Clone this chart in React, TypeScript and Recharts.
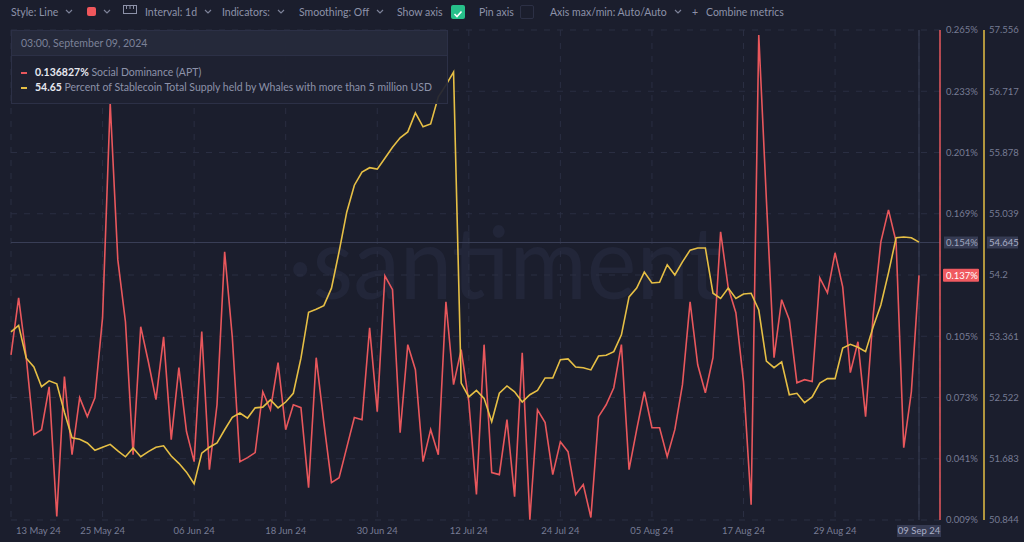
import React from 'react';
import { LineChart, Line, XAxis, YAxis, CartesianGrid, ReferenceLine } from 'recharts';

// daily points, 13 May 2024 -> 09 Sep 2024
const START_DATE = Date.UTC(2024, 4, 13);
const MONTHS = ['Jan', 'Feb', 'Mar', 'Apr', 'May', 'Jun', 'Jul', 'Aug', 'Sep', 'Oct', 'Nov', 'Dec'];

// Social Dominance (APT), %
const socialDominance = [
  0.0953, 0.1251, 0.0938, 0.0536, 0.0562, 0.0786, 0.0108, 0.0839, 0.0431, 0.0729,
  0.063, 0.0729, 0.1147, 0.2269, 0.1449, 0.1126, 0.0431, 0.11, 0.0917, 0.0719,
  0.1047, 0.051, 0.0886, 0.0552, 0.0395, 0.1074, 0.0353, 0.0692, 0.1491, 0.1047,
  0.0395, 0.0416, 0.0442, 0.076, 0.0666, 0.0912, 0.0562, 0.0692, 0.0677, 0.0259,
  0.0938, 0.0599, 0.0285, 0.0311, 0.0468, 0.0625, 0.0614, 0.1094, 0.0656, 0.1366,
  0.1293, 0.0546, 0.1006, 0.0875, 0.0395, 0.0562, 0.0431, 0.123, 0.0797, 0.098,
  0.0708, 0.0223, 0.1006, 0.0338, 0.0327, 0.0614, 0.0212, 0.0964, 0.0092, 0.0666,
  0.0599, 0.0327, 0.0499, 0.0447, 0.0223, 0.0275, 0.0103, 0.063, 0.0692, 0.0781,
  0.1006, 0.0353, 0.0562, 0.076, 0.0572, 0.0572, 0.0421, 0.0562, 0.0797, 0.123,
  0.0901, 0.0755, 0.0938, 0.1596, 0.1303, 0.1173, 0.0813, 0.017, 0.2624, 0.1763,
  0.0938, 0.1241, 0.1136, 0.0807, 0.0823, 0.0813, 0.1355, 0.1277, 0.1486, 0.1308,
  0.086, 0.1021, 0.063, 0.1162, 0.1543, 0.171, 0.1543, 0.0468, 0.076, 0.136827,
];

// Percent of Stablecoin Total Supply held by Whales with more than 5 million USD
const whaleShare = [
  53.42, 53.51, 53.06, 52.94, 52.67, 52.75, 52.71, 52.32, 51.97, 51.95,
  51.9, 51.8, 51.84, 51.88, 51.79, 51.71, 51.83, 51.71, 51.78, 51.84,
  51.86, 51.72, 51.62, 51.5, 51.34, 51.76, 51.84, 51.9, 52.08, 52.25,
  52.31, 52.24, 52.38, 52.39, 52.49, 52.38, 52.46, 52.58, 53.06, 53.69,
  53.73, 53.78, 54.02, 54.52, 55.06, 55.43, 55.61, 55.67, 55.65, 55.8,
  55.95, 56.08, 56.16, 56.42, 56.23, 56.27, 56.64, 56.8, 56.98, 52.72,
  52.53, 52.62, 52.51, 52.19, 52.58, 52.68, 52.6, 52.46, 52.56, 52.62,
  52.79, 52.79, 53.04, 53.05, 52.94, 52.93, 52.9, 53.09, 53.1, 53.15,
  53.38, 53.9, 54.02, 54.24, 54.09, 54.1, 54.34, 54.2, 54.38, 54.54,
  54.57, 54.57, 53.95, 53.88, 54.02, 53.88, 53.94, 53.95, 53.72, 53.02,
  52.93, 53.01, 52.56, 52.58, 52.45, 52.53, 52.72, 52.78, 52.78, 53.2,
  53.25, 53.21, 53.15, 53.49, 53.79, 54.23, 54.71, 54.72, 54.71, 54.65,
];

const sdTicks = [0.265, 0.233, 0.201, 0.169, 0.137, 0.105, 0.073, 0.041, 0.009];
const whaleTicks = [57.556, 56.717, 55.878, 55.039, 54.2, 53.361, 52.522, 51.683, 50.844];
const dateTicks = [
  '13 May 24', '25 May 24', '06 Jun 24', '18 Jun 24', '30 Jun 24', '12 Jul 24',
  '24 Jul 24', '05 Aug 24', '17 Aug 24', '29 Aug 24', '09 Sep 24',
];

const hoverTitle = '03:00, September 09, 2024';
const hoverSd = 0.154;
const hoverWhale = 54.645;
const lastSd = 0.136827;
const lastWhale = 54.65;

const RED = '#e8575c';
const YELLOW = '#e6bf45';
const BG = '#1b1e2d';
const MUTED = '#777c94';

const dates = socialDominance.map((_, i) => {
  const d = new Date(START_DATE + i * 86400000);
  return `${String(d.getUTCDate()).padStart(2, '0')} ${MONTHS[d.getUTCMonth()]} ${String(d.getUTCFullYear()).slice(2)}`;
});

const data = dates.map((date, i) => ({ date, sd: socialDominance[i], whales: whaleShare[i] }));

const Chevron: React.FC = () => (
  <svg style={{ marginLeft: 7 }} width={8} height={5}>
    <path d="M1 1 L4 4 L7 1" fill="none" stroke="#7d8299" strokeWidth={1.2} />
  </svg>
);

const ToolItem: React.FC<{ x: number; chevron?: boolean; children: React.ReactNode }> = ({ x, chevron, children }) => (
  <div style={{ position: 'absolute', left: x, top: 4, height: 15, display: 'flex', alignItems: 'center', fontSize: 10.5, color: '#8d92a9', whiteSpace: 'nowrap' }}>
    {children}
    {chevron && <Chevron />}
  </div>
);

const XTick = (props: any) => {
  const { x, y, payload } = props;
  const v = payload.value;
  if (v === dates[dates.length - 1]) {
    return (
      <g>
        <rect x={x - 22} y={y + 5} width={44} height={12} fill="#353a52" />
        <text x={x} y={y + 14} textAnchor="middle" fill="#a9aec6" fontSize={9.5}>{v}</text>
      </g>
    );
  }
  const first = v === dates[0];
  return (
    <text x={first ? x + 5 : x} y={y + 13.5} textAnchor={first ? 'start' : 'middle'} fill={MUTED} fontSize={9.5}>
      {v}
    </text>
  );
};

// the tick under the live-value tag is covered by it, so it is not drawn twice
const SdTick = (props: any) => {
  const { x, y, payload } = props;
  if (payload.value.toFixed(3) === lastSd.toFixed(3)) return <g />;
  return (
    <text x={x} y={y + 3.4} fill={MUTED} fontSize={9.5}>{`${payload.value.toFixed(3)}%`}</text>
  );
};

const HoverTags = (props: any) => {
  const { viewBox } = props;
  const right = viewBox.x + viewBox.width;
  const y = viewBox.y;
  return (
    <g>
      <rect x={right + 4} y={y - 6} width={34} height={12} fill="#363b53" />
      <text x={right + 6} y={y + 3.4} fill="#9ea4bd" fontSize={9.5}>{hoverSd.toFixed(3)}%</text>
      <rect x={right + 47} y={y - 6} width={31} height={12} fill="#363b53" />
      <text x={right + 49} y={y + 3.4} fill="#a9aec6" fontSize={9.5}>{hoverWhale}</text>
    </g>
  );
};

const LastTag = (props: any) => {
  const { viewBox } = props;
  const right = viewBox.x + viewBox.width;
  const y = viewBox.y;
  return (
    <g>
      <rect x={right + 3} y={y - 6.5} width={36} height={13} fill="#f05a60" rx={1} />
      <text x={right + 6} y={y + 3.4} fill="#ffffff" fontSize={9.5}>{lastSd.toFixed(3)}%</text>
    </g>
  );
};

const App: React.FC = () => {
  return (
    <div style={{ position: 'absolute', left: 0, top: 0, width: 1024, height: 542, background: BG, overflow: 'hidden', fontFamily: 'Lato, "Open Sans", sans-serif' }}>
      {/* toolbar */}
      <ToolItem x={11} chevron>Style: Line</ToolItem>
      <ToolItem x={87} chevron>
        <div style={{ width: 9, height: 9, background: '#f0575c', borderRadius: 2 }} />
      </ToolItem>
      <svg style={{ position: 'absolute', left: 123, top: 4 }} width={15} height={11}>
        <rect x={0.5} y={1.5} width={13} height={8} fill="none" stroke="#8d92a9" strokeWidth={1} />
        <path d="M3.5 1.5 V5 M7 1.5 V5 M10.5 1.5 V5" stroke="#8d92a9" strokeWidth={1} />
      </svg>
      <ToolItem x={145} chevron>Interval: 1d</ToolItem>
      <ToolItem x={222} chevron>Indicators:</ToolItem>
      <ToolItem x={299} chevron>Smoothing: Off</ToolItem>
      <ToolItem x={397}>Show axis</ToolItem>
      <div style={{ position: 'absolute', left: 451, top: 5, width: 14, height: 14, background: '#27c08a', borderRadius: 2 }}>
        <svg width={14} height={14}>
          <path d="M3.5 7 L6 9.5 L10.5 4.5" fill="none" stroke="#fff" strokeWidth={1.6} />
        </svg>
      </div>
      <ToolItem x={479}>Pin axis</ToolItem>
      <div style={{ position: 'absolute', left: 520, top: 5, width: 14, height: 14, border: '1px solid #2c3045', borderRadius: 2, boxSizing: 'border-box' }} />
      <ToolItem x={550} chevron>Axis max/min: Auto/Auto</ToolItem>
      <ToolItem x={692}>+</ToolItem>
      <ToolItem x={706}>Combine metrics</ToolItem>

      {/* watermark */}
      <svg style={{ position: 'absolute', left: 0, top: 0 }} width={1024} height={542}>
        <text x={288} y={299} fontSize={100} textLength={434} lengthAdjust="spacingAndGlyphs" fill="#222639" fontFamily="Lato, sans-serif">
          ·santiment
        </text>
      </svg>

      <div style={{ position: 'absolute', left: 0, top: 0 }}>
        <LineChart width={1024} height={542} data={data} margin={{ top: 30, right: 0, bottom: 0, left: 11 }}>
          <CartesianGrid yAxisId="sd" stroke="#2a2e42" strokeDasharray="6 7" />
          <XAxis
            dataKey="date"
            ticks={dateTicks}
            interval={0}
            height={22}
            axisLine={false}
            tickLine={false}
            tickSize={0}
            tickMargin={0}
            padding={{ left: 0, right: 21 }}
            tick={<XTick />}
          />
          <YAxis
            yAxisId="sd"
            orientation="right"
            width={44}
            domain={[sdTicks[sdTicks.length - 1], sdTicks[0]]}
            ticks={sdTicks}
            interval={0}
            axisLine={{ stroke: RED, strokeWidth: 1.5 }}
            tickLine={false}
            tickSize={0}
            tickMargin={6}
            tick={<SdTick />}
          />
          <YAxis
            yAxisId="wh"
            orientation="right"
            width={40}
            domain={[whaleTicks[whaleTicks.length - 1], whaleTicks[0]]}
            ticks={whaleTicks}
            interval={0}
            axisLine={{ stroke: YELLOW, strokeWidth: 1.5 }}
            tickLine={false}
            tickSize={0}
            tickMargin={5}
            tick={{ fill: MUTED, fontSize: 9.5 }}
            tickFormatter={(v: number) => String(v)}
          />
          <ReferenceLine yAxisId="sd" x={dates[dates.length - 1]} stroke="#393e56" />
          <ReferenceLine yAxisId="wh" y={hoverWhale} stroke="#393e56" label={(p: any) => <HoverTags {...p} />} />
          <Line yAxisId="sd" type="linear" dataKey="sd" stroke={RED} strokeWidth={1.6} dot={false} isAnimationActive={false} />
          <Line yAxisId="wh" type="linear" dataKey="whales" stroke={YELLOW} strokeWidth={1.6} dot={false} isAnimationActive={false} />
          <ReferenceLine yAxisId="sd" y={lastSd} stroke="none" label={(p: any) => <LastTag {...p} />} />
        </LineChart>
      </div>

      {/* hover tooltip */}
      <div style={{ position: 'absolute', left: 11, top: 30, width: 437, height: 74, background: 'rgba(30,33,50,0.93)', border: '1px solid #2c3046', boxSizing: 'border-box' }}>
        <div style={{ height: 24, background: 'rgba(38,42,60,0.9)', borderBottom: '1px solid #2c3046', paddingLeft: 9, lineHeight: '24px', fontSize: 10.5, color: '#7c8198' }}>
          {hoverTitle}
        </div>
        <div style={{ position: 'absolute', left: 9, top: 34, fontSize: 10.5, lineHeight: '14px', whiteSpace: 'nowrap', color: '#8d92a9' }}>
          <span style={{ display: 'inline-block', width: 6, height: 2, background: RED, verticalAlign: 'middle', marginRight: 8 }} />
          <b style={{ color: '#e6e8f0' }}>{lastSd}%</b> Social Dominance (APT)
        </div>
        <div style={{ position: 'absolute', left: 9, top: 49, fontSize: 10.5, lineHeight: '14px', whiteSpace: 'nowrap', color: '#8d92a9' }}>
          <span style={{ display: 'inline-block', width: 6, height: 2, background: YELLOW, verticalAlign: 'middle', marginRight: 8 }} />
          <b style={{ color: '#e6e8f0' }}>{lastWhale}</b> Percent of Stablecoin Total Supply held by Whales with more than 5 million USD
        </div>
      </div>
    </div>
  );
};

export default App;
